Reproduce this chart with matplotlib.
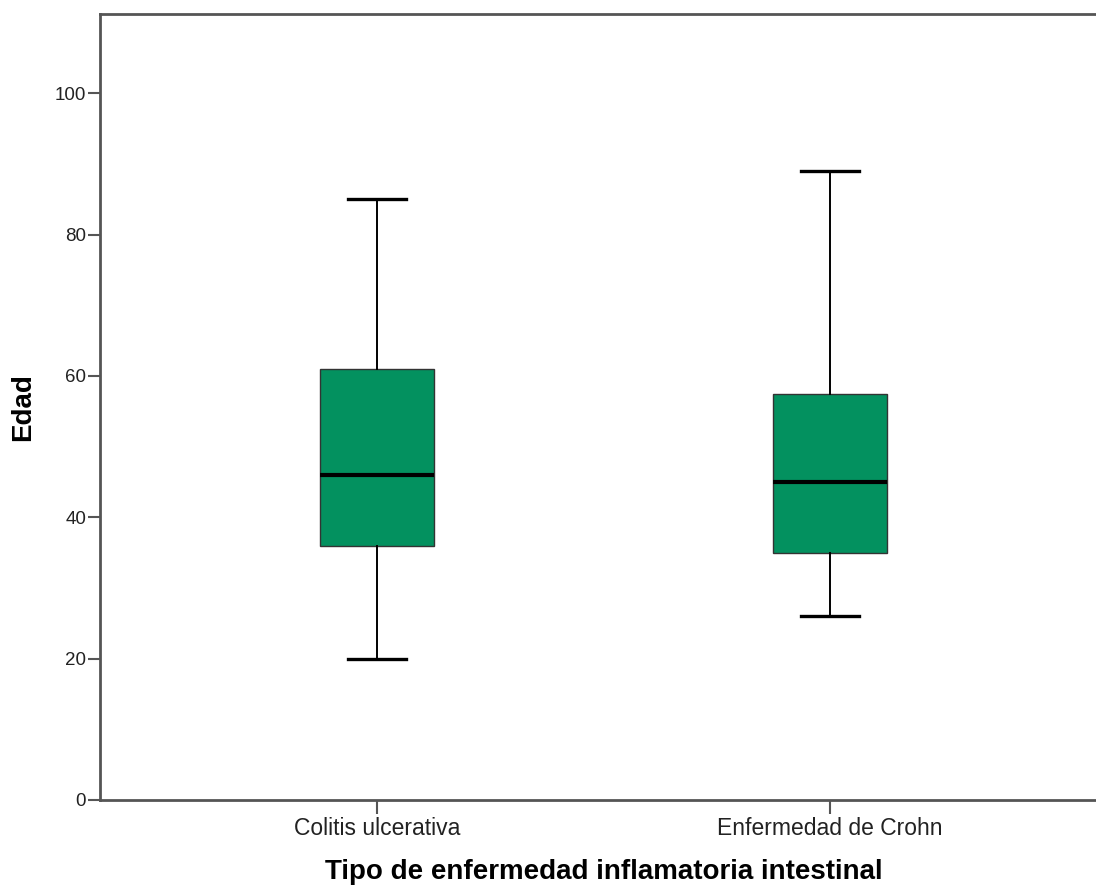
import matplotlib
matplotlib.use("Agg")
import matplotlib.pyplot as plt

categories = ["Colitis ulcerativa", "Enfermedad de Crohn"]
whisker_low = [20, 26]
q1 = [36, 35]
median = [46, 45]
q3 = [61, 57.5]
whisker_high = [85, 89]

plt.rcParams['font.family'] = ['Liberation Sans', 'DejaVu Sans']

fig = plt.figure(figsize=(10.96, 8.85), dpi=100)
ax = fig.add_axes([100 / 1096, 1 - 800 / 885, 1007 / 1096, 786 / 885])

stats = []
for i, name in enumerate(categories):
    stats.append(dict(label=name, whislo=whisker_low[i], q1=q1[i], med=median[i],
                      q3=q3[i], whishi=whisker_high[i], fliers=[]))

ax.bxp(stats, positions=[0, 1], widths=0.25, capwidths=0.13, patch_artist=True,
       boxprops=dict(facecolor='#03915f', edgecolor='#333333', linewidth=1.0),
       medianprops=dict(color='black', linewidth=3.0),
       whiskerprops=dict(color='black', linewidth=1.4),
       capprops=dict(color='black', linewidth=2.4))

ax.set_xlim(-277 / 453, 1 + 277 / 453)
ax.set_ylim(0, 111.2)
ax.set_yticks([0, 20, 40, 60, 80, 100])

for side in ['left', 'bottom', 'top', 'right']:
    ax.spines[side].set_color('#555555')
    ax.spines[side].set_linewidth(2)
ax.tick_params(axis='y', colors='#555555', width=1.5, length=9, pad=1,
               labelcolor='#222222', labelsize=13.5)
ax.tick_params(axis='x', colors='#555555', width=1.5, length=10, pad=2,
               labelcolor='#222222', labelsize=16.5)

ax.set_ylabel('Edad', fontsize=20, fontweight='bold', va='center')
ax.yaxis.set_label_coords(-77 / 1007, 0.5)
ax.set_xlabel('Tipo de enfermedad inflamatoria intestinal', fontsize=20,
              fontweight='bold', labelpad=14)

fig.savefig('out.png', dpi=100)
